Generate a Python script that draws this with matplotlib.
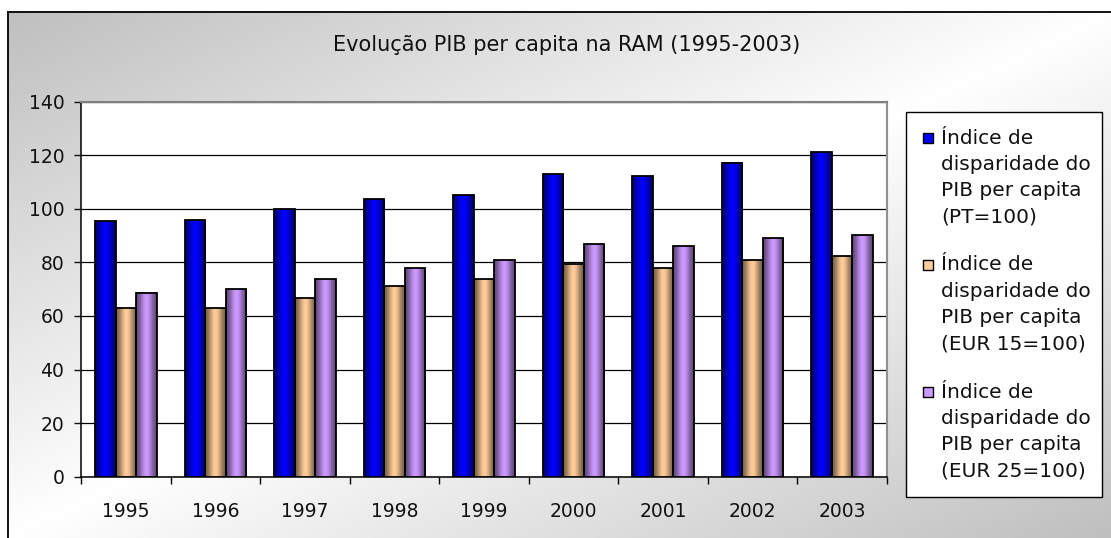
import numpy as np
import matplotlib
matplotlib.use("Agg")
import matplotlib.pyplot as plt
from matplotlib.patches import Rectangle

plt.rcParams['font.family'] = ['DejaVu Sans']

years = ['1995', '1996', '1997', '1998', '1999', '2000', '2001', '2002', '2003']
pib_pt = [95.3, 95.9, 99.8, 103.6, 105.0, 112.9, 112.2, 117.3, 121.3]
pib_eur15 = [62.8, 62.8, 66.8, 71.2, 73.9, 79.3, 77.9, 81.0, 82.4]
pib_eur25 = [68.7, 70.0, 73.9, 77.8, 81.0, 86.8, 86.2, 89.0, 90.1]
series_labels = [
    ['Índice de', 'disparidade do', 'PIB per capita', '(PT=100)'],
    ['Índice de', 'disparidade do', 'PIB per capita', '(EUR 15=100)'],
    ['Índice de', 'disparidade do', 'PIB per capita', '(EUR 25=100)'],
]
colors = ['#0000ff', '#ffcc99', '#cc99ff']
title = 'Evolução PIB per capita na RAM (1995-2003)'

W, H = 1111, 538


def fx(px):
    return px / W


def fy(py):
    return 1 - py / H


def shade(base, n=64):
    # cylinder-like horizontal shading of a bar
    rgb = np.array(matplotlib.colors.to_rgb(base))
    s = np.linspace(0, 1, n)
    f = 0.40 + 0.60 * np.exp(-((s - 0.5) / 0.33) ** 2)
    return (f[:, None] * rgb[None, :])[None, :, :]


fig = plt.figure(figsize=(W / 100, H / 100), dpi=100)
fig.patch.set_facecolor('white')

# chart area with diagonal gradient background
bg = fig.add_axes([fx(8), 0, 1 - fx(8), fy(12)], zorder=-5)
u, v = np.meshgrid(np.linspace(0, 1, 300), np.linspace(0, 1, 150))
t = np.abs(u + v - 1)
g = 1 - 0.25 * t
bg.imshow(np.dstack([g, g, g]), extent=[0, 1, 0, 1], aspect='auto', origin='upper')
bg.set_xlim(0, 1)
bg.set_ylim(0, 1)
bg.set_xticks([])
bg.set_yticks([])
for side in ['right', 'bottom']:
    bg.spines[side].set_visible(False)
for side in ['left', 'top']:
    bg.spines[side].set_linewidth(1.3)

ax = fig.add_axes([fx(81), fy(476.7), fx(887 - 81), (476.7 - 101.7) / H])
ax.set_facecolor('white')

x = np.arange(len(years))
w = 0.229
all_series = [pib_pt, pib_eur15, pib_eur25]
for i, vals in enumerate(all_series):
    bars = ax.bar(x + (i - 1) * w, vals, w, facecolor='none', edgecolor='black',
                  linewidth=1.3, zorder=4)
    grad = shade(colors[i])
    for p in bars:
        ax.imshow(grad, extent=(p.get_x(), p.get_x() + p.get_width(), p.get_y(),
                                p.get_y() + p.get_height()),
                  aspect='auto', zorder=3, interpolation='bilinear')

ax.set_xlim(-0.5, len(years) - 0.5)
ax.set_ylim(0, 140)
ax.set_yticks(np.arange(0, 141, 20))
ax.set_xticks(x)
ax.set_xticklabels(years)
ax.set_xticks(np.arange(-0.5, len(years), 1), minor=True)
ax.tick_params(axis='x', which='major', length=0, pad=18, labelsize=13.5, colors='#111111')
ax.tick_params(axis='x', which='minor', length=5, width=1, direction='out')
ax.tick_params(axis='y', length=5, width=1, direction='out', pad=7, labelsize=13.5,
               colors='#111111')
ax.yaxis.grid(True, color='black', linewidth=0.9)
ax.set_axisbelow(True)
ax.spines['left'].set_linewidth(1.1)
ax.spines['bottom'].set_linewidth(1.1)
ax.spines['top'].set_color('#808080')
ax.spines['right'].set_color('#909090')
ax.spines['top'].set_linewidth(1.5)
ax.spines['right'].set_linewidth(1.5)

fig.text(fx(567), fy(45), title, ha='center', va='center', fontsize=15, color='#111111')

# legend
fig.patches.append(Rectangle((fx(906), fy(497)), fx(1102 - 906), (497 - 112) / H,
                             transform=fig.transFigure, facecolor='white',
                             edgecolor='black', linewidth=1.0, zorder=1))
line_step = 26.3
for i, lines in enumerate(series_labels):
    y0 = 138 + i * 127
    fig.patches.append(Rectangle((fx(923), fy(y0 + 5)), fx(10), 10 / H,
                                 transform=fig.transFigure, facecolor=colors[i],
                                 edgecolor='black', linewidth=1.0, zorder=2))
    for k, line in enumerate(lines):
        fig.text(fx(941), fy(y0 + k * line_step), line, ha='left', va='center',
                 fontsize=14.5, color='#111111', zorder=3)

fig.savefig('out.png', dpi=100)
